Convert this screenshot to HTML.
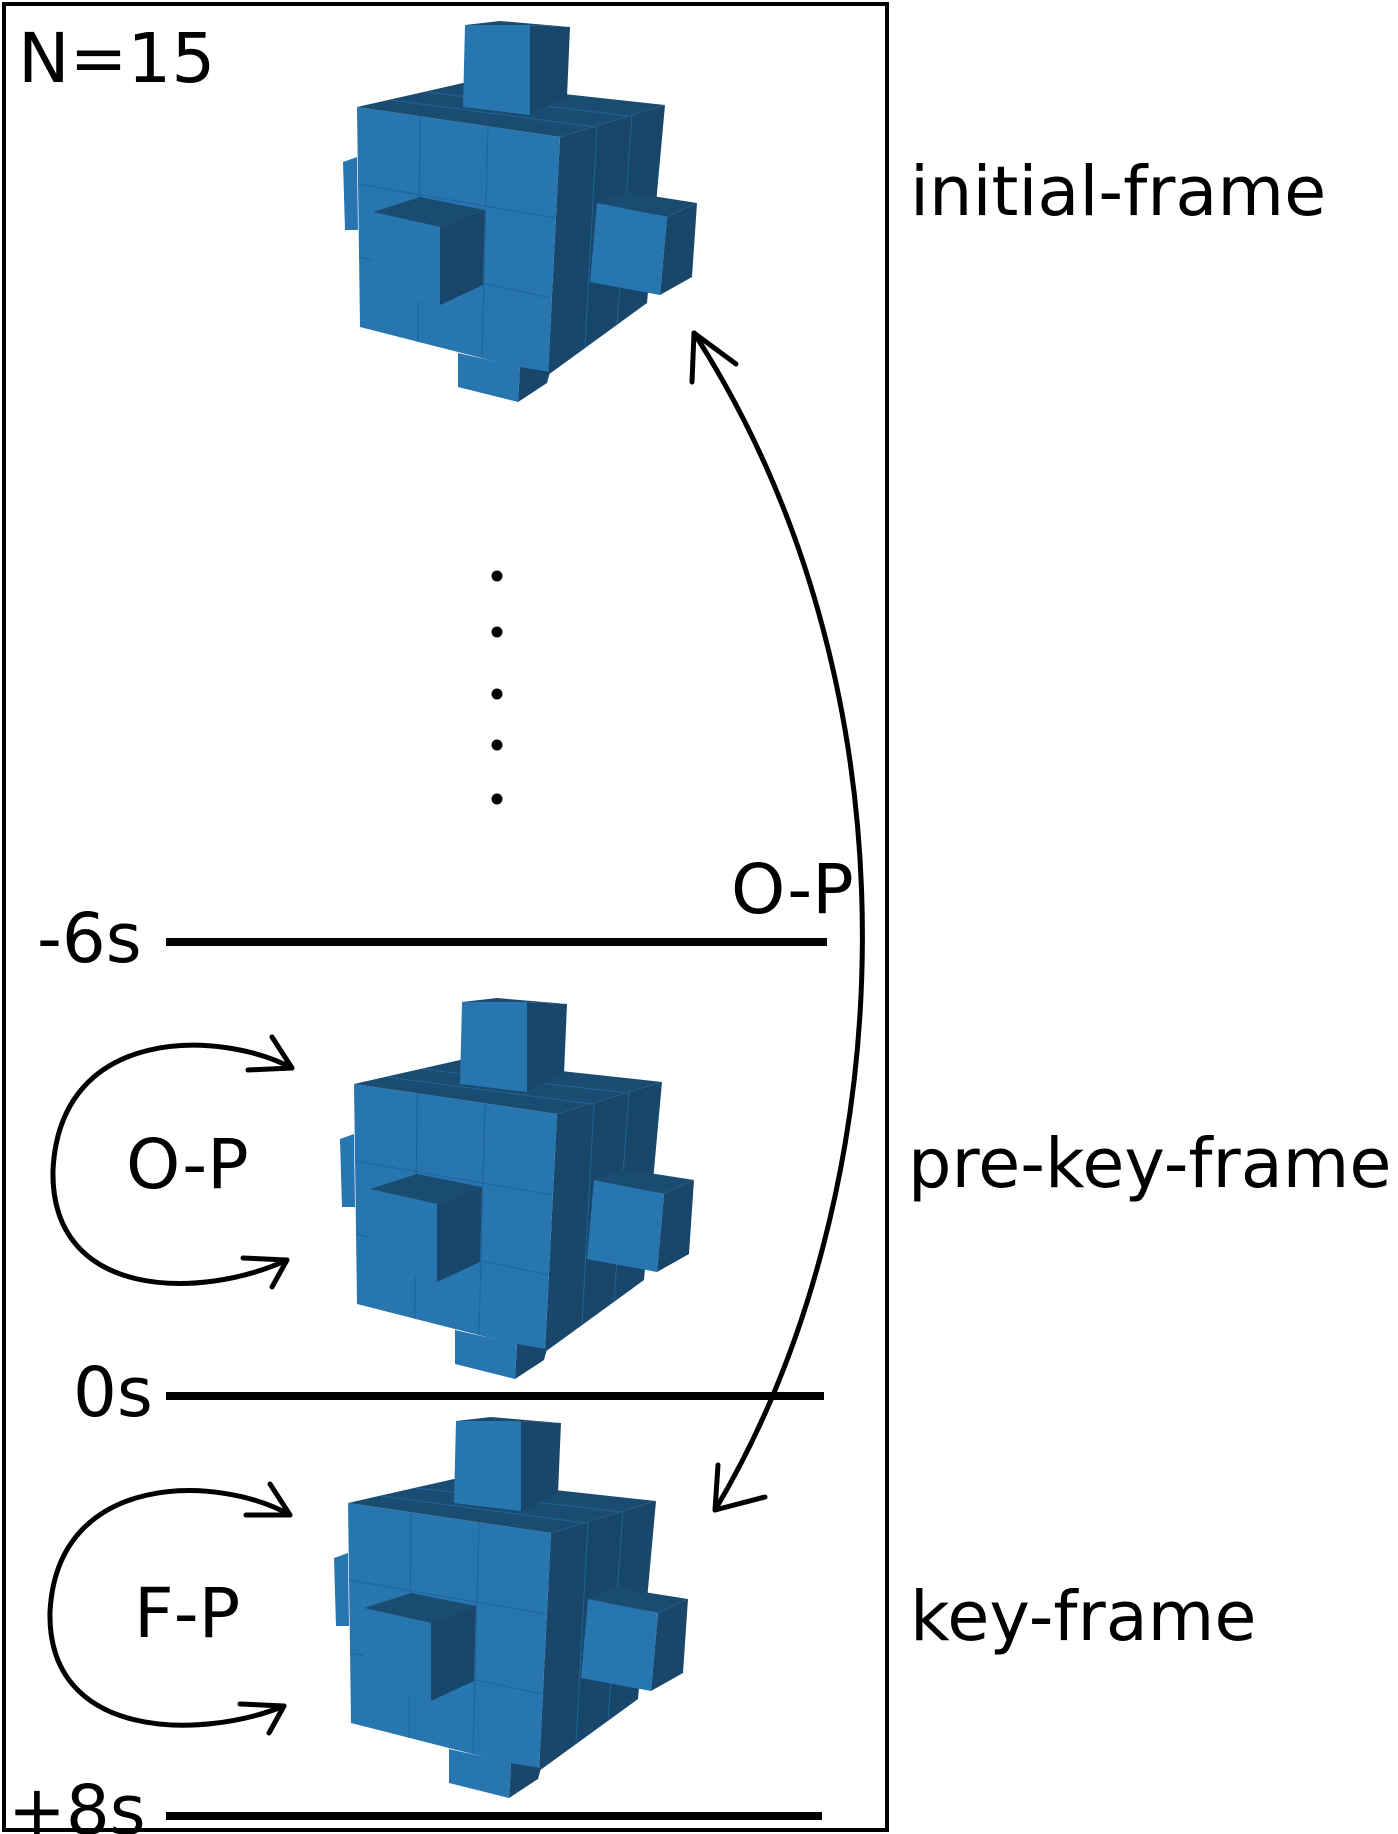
<!DOCTYPE html>
<html><head><meta charset="utf-8"><style>
html,body{margin:0;padding:0;background:#fff;}
svg{display:block;}
text{font-family:"DejaVu Sans","Liberation Sans",sans-serif;fill:#000;}
</style></head><body>
<svg width="1398" height="1834" viewBox="0 0 1398 1834" xmlns="http://www.w3.org/2000/svg">
<defs>
<g id="cube" stroke-linejoin="round">
  <polygon points="357,107 463,83 665,105 560,137" fill="#1a4c72"/>
  <polygon points="560,137 665,105 647,303 548,375" fill="#19476b"/>
  <polygon points="357,107 560,137 548,375 360,327" fill="#2776b0"/>
  <g stroke="#1f6496" stroke-width="1" fill="none">
    <line x1="420" y1="116" x2="418" y2="342"/>
    <line x1="488" y1="126" x2="482" y2="358"/>
    <line x1="358" y1="184" x2="555" y2="218"/>
    <line x1="359" y1="257" x2="551" y2="298"/>
    <line x1="597" y1="126" x2="585" y2="347"/>
    <line x1="632" y1="115" x2="617" y2="325"/>
    <line x1="390" y1="100" x2="595" y2="127"/>
    <line x1="425" y1="92" x2="630" y2="116"/>
  </g>
  <polygon points="343,162 357,157 358,230 345,230" fill="#2776b0"/>
  <polygon points="465,25 500,21 570,27 530,25" fill="#1a4c72"/>
  <polygon points="530,25 570,27 567,97 530,115" fill="#19476b"/>
  <polygon points="465,25 530,25 530,115 463,107" fill="#2776b0"/>
  <polygon points="373,212 420,197 485,210 440,227" fill="#1a4c72"/>
  <polygon points="440,227 485,210 483,285 440,305" fill="#19476b"/>
  <polygon points="373,212 440,227 440,305 373,290" fill="#2776b0"/>
  <polygon points="597,203 627,192 697,203 667,217" fill="#1a4c72"/>
  <polygon points="667,217 697,203 692,277 660,295" fill="#19476b"/>
  <polygon points="597,203 667,217 660,295 590,282" fill="#2776b0"/>
  <polygon points="520,367 550,372 547,383 518,402" fill="#19476b"/>
  <polygon points="458,353 520,367 518,402 458,387" fill="#2776b0"/>
</g>
</defs>

<rect x="4" y="4" width="883" height="1826" fill="none" stroke="#000" stroke-width="4"/>

<use href="#cube"/>
<use href="#cube" transform="translate(-3,977)"/>
<use href="#cube" transform="translate(-9,1396)"/>

<text x="18" y="82" font-size="69">N=15</text>
<text x="910" y="215" font-size="68.5">initial-frame</text>
<text x="908" y="1187" font-size="68.5">pre-key-frame</text>
<text x="910" y="1640" font-size="68.5">key-frame</text>

<g fill="#000">
<circle cx="497" cy="576" r="5.5"/><circle cx="497" cy="632" r="5.5"/>
<circle cx="497" cy="694" r="5.5"/><circle cx="497" cy="745" r="5.5"/>
<circle cx="497" cy="799" r="5.5"/>
</g>

<g stroke="#000" stroke-width="8">
<line x1="166" y1="942" x2="827" y2="942"/>
<line x1="166" y1="1396" x2="824" y2="1396"/>
<line x1="166" y1="1816" x2="822" y2="1816"/>
</g>
<text x="37" y="962" font-size="69">-6s</text>
<text x="731" y="913" font-size="69">O-P</text>
<text x="73" y="1416" font-size="69">0s</text>
<text x="8" y="1834" font-size="69">+8s</text>

<g fill="none" stroke="#000" stroke-width="5" stroke-linecap="round" stroke-linejoin="round">
  <path d="M292,1068 C220,1030 60,1025 53,1170 C50,1300 200,1300 287,1260"/>
  <path d="M272,1037 L292,1068 L248,1070"/>
  <path d="M243,1258 L287,1260 L272,1287"/>
  <path d="M290,1515 C220,1475 57,1470 50,1612 C47,1740 200,1740 284,1706"/>
  <path d="M270,1484 L290,1515 L246,1515"/>
  <path d="M240,1704 L284,1706 L269,1733"/>
  <path d="M715,1510 C900,1200 930,700 694,333"/>
  <path d="M692,382 L694,333 L736,364"/>
  <path d="M718,1465 L715,1510 L765,1497"/>
</g>
<text x="126" y="1188" font-size="69">O-P</text>
<text x="134" y="1637" font-size="69">F-P</text>
</svg>
</body></html>
